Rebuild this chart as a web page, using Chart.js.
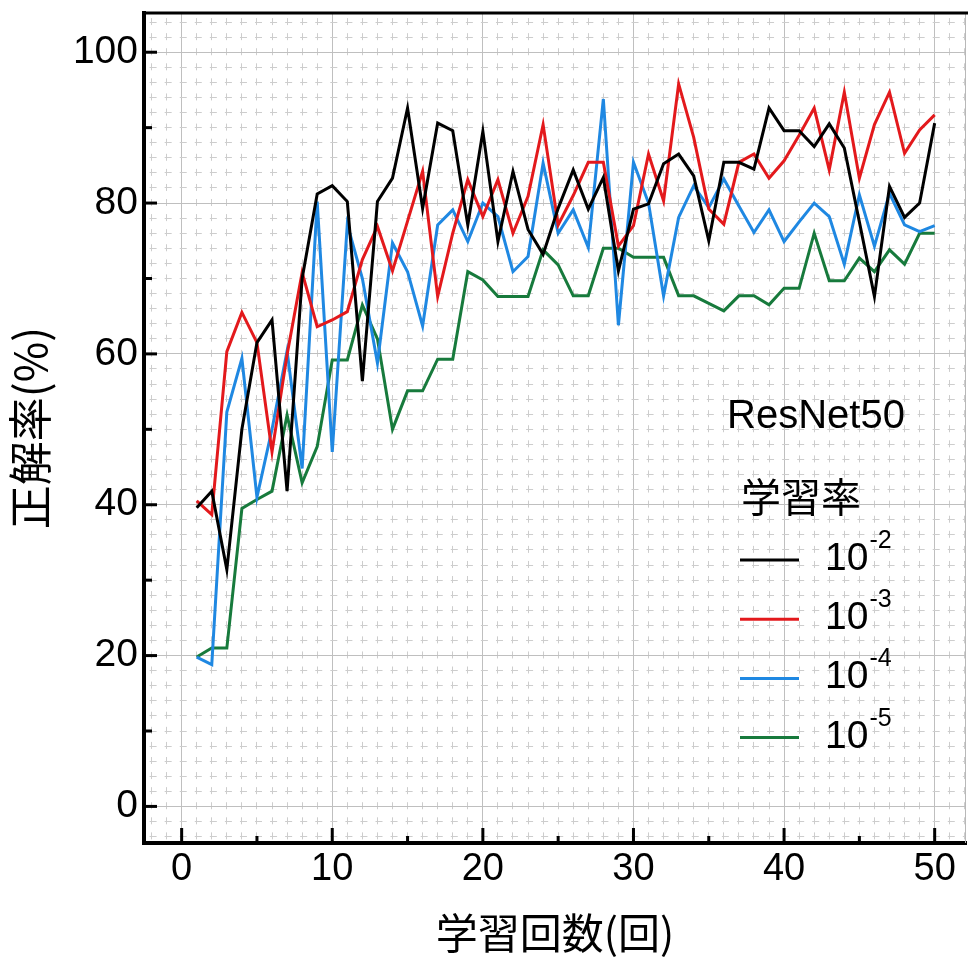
<!DOCTYPE html>
<html>
<head>
<meta charset="utf-8">
<script src="https://cdn.jsdelivr.net/npm/chart.js@4/dist/chart.umd.min.js"></script>
<style>
  html, body { margin: 0; padding: 0; background: #ffffff; }
  #wrap { width: 968px; height: 960px; }
</style>
</head>
<body>
<div id="wrap"><canvas id="c" width="968" height="960"></canvas></div>
<script>
// ---- data ----
const epochs = [1,2,3,4,5,6,7,8,9,10,11,12,13,14,15,16,17,18,19,20,21,22,23,24,25,26,27,28,29,30,31,32,33,34,35,36,37,38,39,40,41,42,43,44,45,46,47,48,49,50];
const lr1e2 = [39.6,41.8,31.4,50.0,61.5,64.5,41.8,70.0,81.2,82.3,80.2,56.4,80.2,83.3,92.6,79.3,90.6,89.6,77.1,89.5,74.9,84.2,76.5,73.2,79.3,84.4,79.2,83.4,71.0,79.2,79.9,85.2,86.5,83.6,75.0,85.4,85.4,84.5,92.6,89.6,89.6,87.5,90.5,87.3,77.5,67.6,82.2,78.1,80.0,90.6];
const lr1e3 = [40.5,38.7,60.3,65.5,61.5,47.0,59.9,70.8,63.6,64.5,65.6,72.5,76.9,71.0,77.6,84.2,67.6,76.0,83.1,78.2,83.1,76.0,80.9,90.4,77.1,81.0,85.4,85.4,74.3,77.0,86.5,80.3,95.8,88.7,79.2,77.2,85.4,86.5,83.3,85.6,89.0,92.6,84.4,94.7,83.3,90.4,94.7,86.6,89.7,91.7];
const lr1e4 = [19.8,18.8,52.3,59.4,41.0,50.0,60.4,44.8,80.2,47.0,77.2,70.0,58.8,74.7,70.9,63.7,77.1,79.1,74.9,80.0,78.2,70.9,72.9,85.3,76.0,79.1,74.1,93.8,63.8,85.4,80.0,67.7,78.1,82.3,79.4,83.2,79.6,76.1,79.1,74.9,77.5,80.0,78.2,71.9,81.1,74.3,81.3,77.1,76.2,77.0];
const lr1e5 = [19.8,21.0,21.0,39.5,40.7,41.8,51.9,42.9,47.7,59.2,59.2,66.5,62.0,50.0,55.1,55.1,59.3,59.3,70.9,69.8,67.6,67.6,67.6,73.8,71.8,67.7,67.7,74.0,74.0,72.8,72.8,72.8,67.7,67.7,66.7,65.7,67.7,67.7,66.5,68.7,68.7,76.0,69.7,69.7,72.7,70.9,73.8,71.9,76.0,76.0];

const seriesNames = ['10', '10', '10', '10'];
const seriesExponents = ['-2', '-3', '-4', '-5'];
const seriesColors = ['#000000', '#e3191c', '#1f88e2', '#177a3c'];
const modelName = 'ResNet50';
const legendTitle = '学習率';
const xTitle = '学習回数(回)';
const yTitle = '正解率(%)';

const xGridValues = [-2,-1,0,1,2,3,4,5,6,7,8,9,10,11,12,13,14,15,16,17,18,19,20,21,22,23,24,25,26,27,28,29,30,31,32,33,34,35,36,37,38,39,40,41,42,43,44,45,46,47,48,49,50,51,52];
const yGridValues = [-4,-2,0,2,4,6,8,10,12,14,16,18,20,22,24,26,28,30,32,34,36,38,40,42,44,46,48,50,52,54,56,58,60,62,64,66,68,70,72,74,76,78,80,82,84,86,88,90,92,94,96,98,100,102,104];
const xLabelValues = [0,10,20,30,40,50];
const yLabelValues = [0,20,40,60,80,100];
const xTickMarks = [0,5,10,15,20,25,30,35,40,45,50];
const yTickMarks = [0,10,20,30,40,50,60,70,80,90,100];

const latin = '"Liberation Sans", Arial, sans-serif';
const cjk = '"Noto Sans CJK JP", "Liberation Sans", sans-serif';

function toPoints(vals) { return epochs.map((e, i) => ({ x: e, y: vals[i] })); }
const allSeries = [lr1e2, lr1e3, lr1e4, lr1e5];

const frameAndLegend = {
  id: 'frameAndLegend',
  afterDraw(chart) {
    const ctx = chart.ctx;
    const a = chart.chartArea;
    const xs = chart.scales.x, ys = chart.scales.y;
    ctx.save();
    // right faint frame
    ctx.strokeStyle = '#b8b8b8'; ctx.lineWidth = 1;
    ctx.beginPath(); ctx.moveTo(a.right - 0.5, a.top); ctx.lineTo(a.right - 0.5, a.bottom); ctx.stroke();
    // top frame
    ctx.strokeStyle = '#000'; ctx.lineWidth = 3;
    ctx.beginPath(); ctx.moveTo(a.left - 2, a.top); ctx.lineTo(a.right + 2, a.top); ctx.stroke();
    // inward tick marks
    ctx.lineWidth = 3; ctx.strokeStyle = '#000';
    xTickMarks.forEach(v => {
      const px = xs.getPixelForValue(v);
      const len = (v % 10 === 0) ? 15 : 7;
      ctx.beginPath(); ctx.moveTo(px, a.bottom); ctx.lineTo(px, a.bottom - len); ctx.stroke();
    });
    yTickMarks.forEach(v => {
      const py = ys.getPixelForValue(v);
      const len = (v % 20 === 0) ? 13 : 8;
      ctx.beginPath(); ctx.moveTo(a.left, py); ctx.lineTo(a.left + len, py); ctx.stroke();
    });
    // legend
    ctx.fillStyle = '#000';
    ctx.textBaseline = 'alphabetic';
    ctx.textAlign = 'left';
    ctx.font = '40px ' + latin;
    ctx.fillText(modelName, 727, 428);
    ctx.font = '40px ' + cjk;
    ctx.textBaseline = 'middle';
    ctx.fillText(legendTitle, 741, 497);
    ctx.textBaseline = 'alphabetic';
    chart.data.datasets.forEach((ds, i) => {
      const ly = 560 + i * 59.2;
      ctx.strokeStyle = ds.borderColor; ctx.lineWidth = 3;
      ctx.beginPath(); ctx.moveTo(740, ly); ctx.lineTo(799, ly); ctx.stroke();
      ctx.fillStyle = '#000';
      ctx.font = '39px ' + latin;
      ctx.fillText(seriesNames[i], 825, ly + 10);
      const w = ctx.measureText(seriesNames[i]).width;
      ctx.font = '25px ' + latin;
      ctx.fillText(seriesExponents[i], 825 + w + 1, ly - 12);
    });
    ctx.restore();
  }
};

new Chart(document.getElementById('c'), {
  type: 'line',
  data: {
    datasets: allSeries.map((s, i) => ({
      label: seriesNames[i] + seriesExponents[i],
      data: toPoints(s),
      borderColor: seriesColors[i],
      backgroundColor: seriesColors[i],
      borderWidth: 3,
      pointRadius: 0,
      tension: 0,
      fill: false
    }))
  },
  options: {
    responsive: false,
    animation: false,
    devicePixelRatio: 1,
    layout: { padding: { top: 13, right: 2, bottom: 0, left: 0 } },
    plugins: { legend: { display: false }, tooltip: { enabled: false }, title: { display: false } },
    scales: {
      x: {
        type: 'linear',
        position: 'bottom',
        min: -2.5,
        max: 52.08,
        afterBuildTicks: (scale) => { scale.ticks = xGridValues.map(v => ({ value: v })); },
        afterFit: (scale) => { scale.height = 117; scale.paddingLeft = 0; scale.paddingRight = 0; },
        ticks: {
          autoSkip: false, maxRotation: 0, minRotation: 0, padding: 4,
          color: '#000',
          font: { family: latin, size: 38 },
          callback: (v) => xLabelValues.includes(v) ? String(v) : ''
        },
        grid: {
          drawTicks: false,
          lineWidth: 1,
          color: (c) => (c.tick && c.tick.value % 10 === 0) ? '#bfbfbf' : '#cdcdcd'
        },
        border: {
          display: true, color: '#000', width: 4,
          dash: (c) => (c.tick && c.tick.value % 10 !== 0) ? [7, 8.08] : [],
          dashOffset: 10.0
        },
        title: {
          display: true, text: xTitle, color: '#000',
          font: { family: cjk, size: 42 },
          padding: { top: 0, bottom: 2 }
        }
      },
      y: {
        type: 'linear',
        position: 'left',
        min: -4.85,
        max: 105.2,
        afterBuildTicks: (scale) => { scale.ticks = yGridValues.map(v => ({ value: v })); },
        afterFit: (scale) => { scale.width = 144; scale.paddingTop = 0; scale.paddingBottom = 0; },
        ticks: {
          autoSkip: false, padding: 6,
          color: '#000',
          font: { family: latin, size: 39 },
          callback: (v) => yLabelValues.includes(v) ? String(v) : ''
        },
        grid: {
          drawTicks: false,
          lineWidth: 1,
          color: (c) => (c.tick && c.tick.value % 20 === 0) ? '#bfbfbf' : '#cdcdcd'
        },
        border: {
          display: true, color: '#000', width: 4,
          dash: (c) => (c.tick && c.tick.value % 20 !== 0) ? [7, 8.06] : [],
          dashOffset: 11.46
        },
        title: {
          display: true, text: yTitle, color: '#000',
          font: { family: cjk, size: 44 },
          padding: { top: 4, bottom: 0 }
        }
      }
    }
  },
  plugins: [frameAndLegend]
});
</script>
</body>
</html>
